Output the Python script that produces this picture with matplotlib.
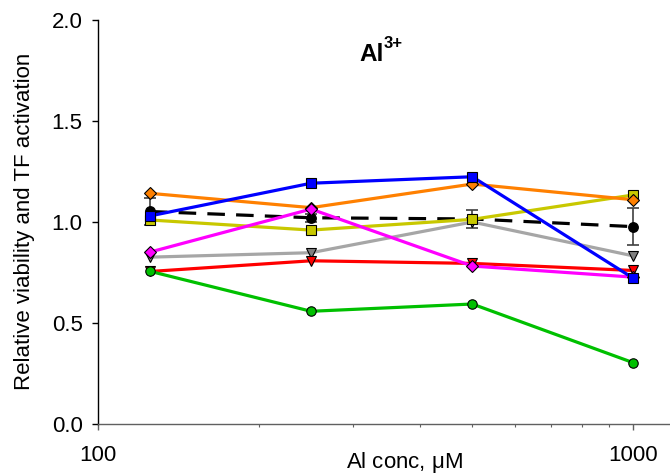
import matplotlib
matplotlib.use("Agg")
import matplotlib.pyplot as plt
from matplotlib.ticker import FixedLocator, FixedFormatter, NullFormatter, LogLocator

plt.rcParams['font.family'] = ['Liberation Sans', 'DejaVu Sans']
plt.rcParams['mathtext.fontset'] = 'custom'
plt.rcParams['mathtext.rm'] = 'Liberation Sans'
plt.rcParams['mathtext.it'] = 'Liberation Sans'

conc = [125, 250, 500, 1000]

black_vals = [1.052, 1.021, 1.015, 0.977]
black_err = [0.066, 0.02, 0.045, 0.09]
blue_vals = [1.030, 1.192, 1.224, 0.721]
orange_vals = [1.142, 1.071, 1.188, 1.110]
yellow_vals = [1.010, 0.960, 1.013, 1.134]
gray_vals = [0.826, 0.848, 1.000, 0.832]
magenta_vals = [0.851, 1.064, 0.782, 0.727]
red_vals = [0.755, 0.808, 0.795, 0.760]
green_vals = [0.756, 0.558, 0.594, 0.303]

W, H = 670, 476
fig = plt.figure(figsize=(W / 100, H / 100), dpi=100)
ax = fig.add_axes([98 / W, 1 - 424 / H, (W - 98) / W, (424 - 20) / H])

lw = 2.3
ms = 6.8
series = [
    (gray_vals, '#A6A6A6', 'v', '#808080'),
    (red_vals, '#FF0000', 'v', '#FF0000'),
    (green_vals, '#00C000', 'o', '#00C000'),
    (yellow_vals, '#C8C800', 's', '#C8C800'),
    (orange_vals, '#FF8000', 'D', '#FF8000'),
    (magenta_vals, '#FF00FF', 'D', '#FF00FF'),
    (blue_vals, '#0000FF', 's', '#0000FF'),
]

ax.errorbar(conc, black_vals, yerr=black_err, color='black', lw=lw,
            ls=(0, (5.5, 3.5)), marker='o', ms=ms, mfc='black', mec='black',
            ecolor='#404040', elinewidth=1.2, capsize=4, capthick=1.2, zorder=2)

for vals, col, mk, mfc in series:
    msz = ms * 0.85 if mk == 'D' else ms
    ax.plot(conc, vals, color=col, lw=lw, marker=mk, ms=msz, mfc=mfc,
            mec='black', mew=0.8, zorder=3)

ax.set_xscale('log')
ax.set_xlim(100, 1170)
ax.set_ylim(0, 2.0)
ax.xaxis.set_major_locator(FixedLocator([100, 1000]))
ax.xaxis.set_major_formatter(FixedFormatter(['100', '1000']))
ax.xaxis.set_minor_locator(LogLocator(base=10, subs=range(2, 10)))
ax.xaxis.set_minor_formatter(NullFormatter())
ax.set_yticks([0.0, 0.5, 1.0, 1.5, 2.0])
ax.set_yticklabels(['0.0', '0.5', '1.0', '1.5', '2.0'])

for s in ['top', 'right']:
    ax.spines[s].set_visible(False)
ax.spines['left'].set_linewidth(1.0)
ax.spines['bottom'].set_linewidth(1.0)
ax.spines['bottom'].set_color('#606060')

ax.tick_params(axis='y', which='major', direction='out', length=4, width=1,
               labelsize=16, pad=7)
ax.tick_params(axis='x', which='major', direction='out', length=4, width=1,
               labelsize=16, pad=11, color='#606060')
ax.tick_params(axis='x', which='minor', direction='out', length=2.4, width=0.8,
               color='#606060')

# axis titles
fig.text(404 / W, 1 - 450 / H, 'Al conc, $\\mu$M', fontsize=16,
         ha='center', va='top')
fig.text(25 / W, 1 - 221.5 / H, 'Relative viability and TF activation',
         fontsize=16, rotation=90, ha='center', va='center')

# panel title Al3+
fig.text(359 / W, 1 - 61 / H, 'Al', fontsize=17.5, fontweight='bold',
         ha='left', va='baseline')
fig.text(384 / W, 1 - 48 / H, '3+', fontsize=12, fontweight='bold',
         ha='left', va='baseline')

fig.savefig('out.png', dpi=100)
